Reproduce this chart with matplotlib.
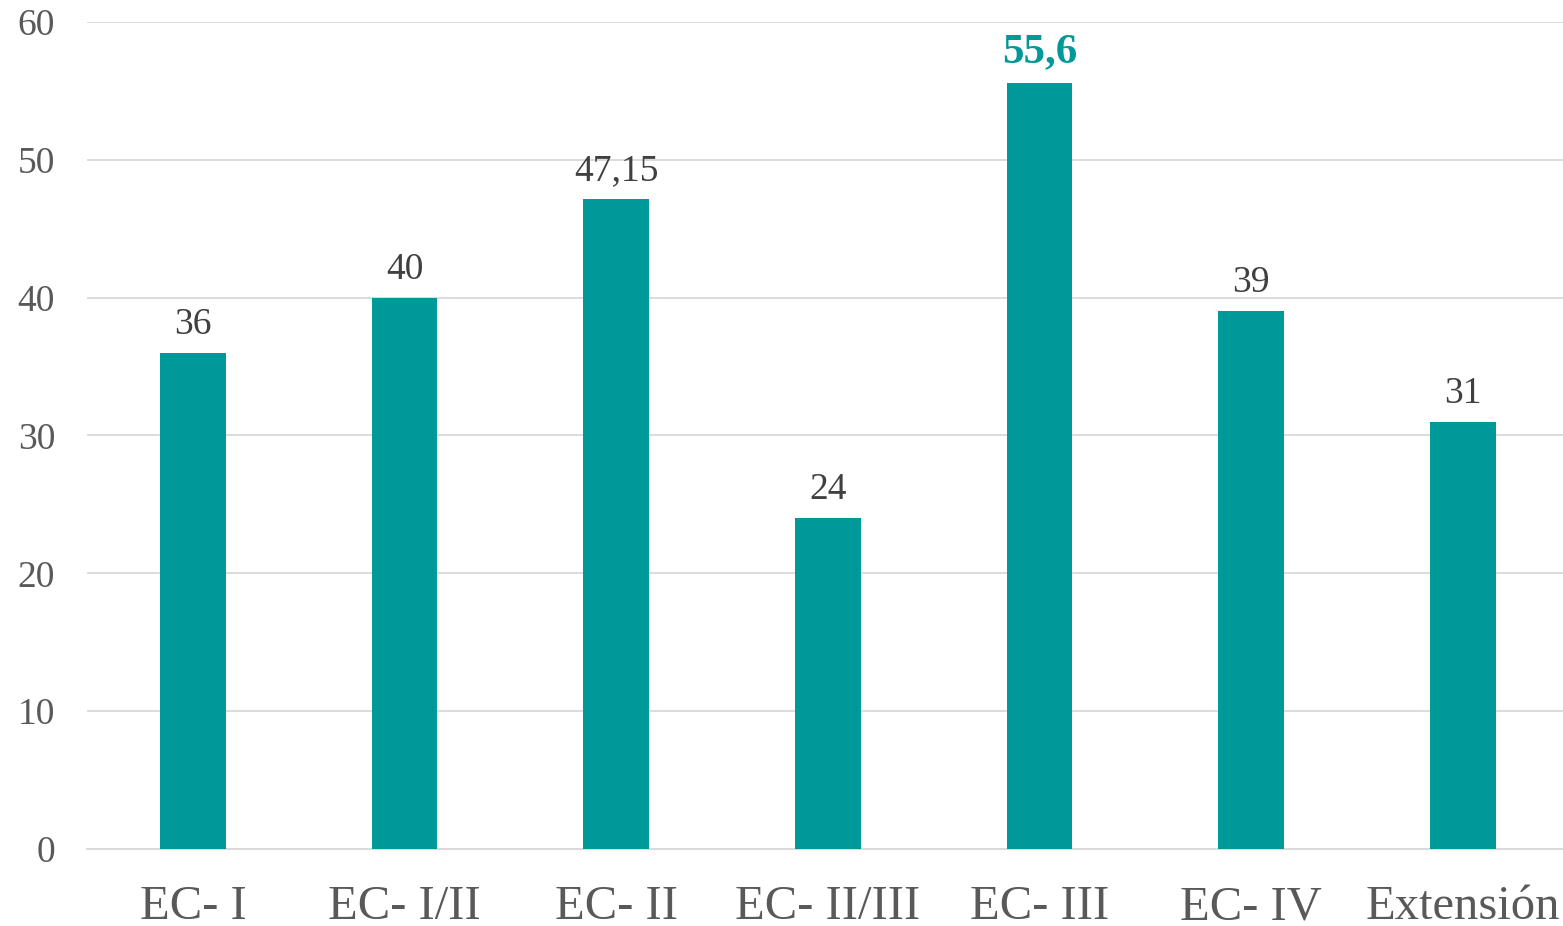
import matplotlib.pyplot as plt

categories = ["EC- I", "EC- I/II", "EC- II", "EC- II/III", "EC- III", "EC- IV", "Extensión"]
values = [36, 40, 47.15, 24, 55.6, 39, 31]
labels = ["36", "40", "47,15", "24", "55,6", "39", "31"]
highlight = 4

teal = "#009999"
grey_text = "#595959"

plt.rcParams["font.family"] = ["Liberation Serif", "DejaVu Serif"]

fig = plt.figure(figsize=(15.63, 9.26), dpi=100)
ax = fig.add_axes([0.0557, 0.0832, 0.948, 0.8930])

x = range(len(categories))
ax.bar(x, values, width=0.31, color=teal, zorder=3)

for i, (v, lab) in enumerate(zip(values, labels)):
    if i == highlight:
        ax.text(i, v + 0.8, lab, ha="center", va="bottom", fontsize=31,
                fontweight="bold", color=teal)
    else:
        ax.text(i, v + 0.8, lab, ha="center", va="bottom", fontsize=27,
                color="#404040")

ax.set_xlim(-0.5, len(categories) - 0.5)
ax.set_ylim(0, 60)
ax.set_yticks(range(0, 61, 10))
ax.set_xticks(list(x))
ax.set_xticklabels(categories, fontsize=35, color=grey_text)
ax.tick_params(axis="y", labelsize=27, labelcolor=grey_text, length=0, pad=23)
ax.tick_params(axis="x", length=0, pad=26)

ax.grid(axis="y", color="#d9d9d9", linewidth=1.3, zorder=0)
for s in ["top", "right", "left"]:
    ax.spines[s].set_visible(False)
ax.spines["bottom"].set_color("#d9d9d9")
ax.spines["bottom"].set_linewidth(1.3)

fig.savefig("out.png", dpi=100)
